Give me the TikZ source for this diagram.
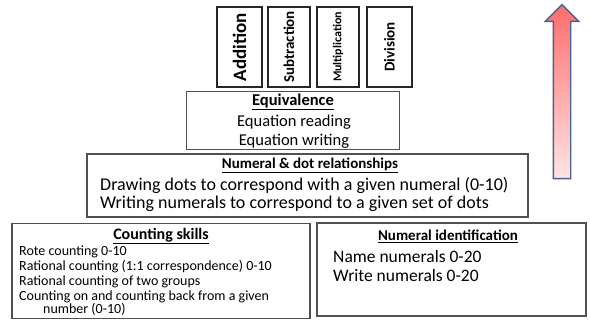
\documentclass[tikz,border=0pt]{standalone}
\usepackage{fontspec}
\setmainfont{Carlito}
\usepackage{tikz}
\usetikzlibrary{shapes.arrows}
\definecolor{BoxGrey}{RGB}{80,80,80}
\definecolor{ArrowTop}{RGB}{255,108,108}
\definecolor{ArrowBottom}{RGB}{255,228,228}
\definecolor{ArrowEdge}{RGB}{72,98,145}
\tikzset{
  levelbox/.style={draw=BoxGrey, line width=1.2pt, inner sep=0pt},
  opbox/.style={levelbox, draw=black!85, minimum width=80pt, inner sep=0pt,
    font=\bfseries},
  headtxt/.style={font=\bfseries\fontsize{15}{17}\selectfont, inner sep=0pt},
  itemtxt/.style={font=\fontsize{17.5}{19}\selectfont, anchor=west, inner sep=0pt},
  smalltxt/.style={font=\fontsize{14}{14}\selectfont, anchor=west, inner sep=0pt},
  uparrow/.style={single arrow, shape border rotate=90, draw=ArrowEdge, line width=1.4pt,
    top color=ArrowTop, bottom color=ArrowBottom, inner xsep=8pt, inner ysep=0pt,
    single arrow head extend=8pt, single arrow head indent=0pt},
}

\begin{document}
\begin{tikzpicture}[x=1pt,y=-1pt]
  \useasboundingbox (0,0) rectangle (590,320);
  % operations
  \node[opbox, rotate=90, minimum height=45pt, font=\bfseries\fontsize{19}{21}\selectfont] (add) at (239.5,47) {Addition};
  \node[opbox, rotate=90, minimum height=42pt, font=\bfseries\fontsize{15}{17}\selectfont] (sub) at (289,47) {Subtraction};
  \node[opbox, rotate=90, minimum height=42pt, font=\bfseries\fontsize{12}{14}\selectfont] (mul) at (338,47) {Multiplication};
  \node[opbox, rotate=90, minimum height=45pt, font=\bfseries\fontsize{15}{17}\selectfont] (div) at (389.5,47) {Division};
  % equivalence
  \node[levelbox, minimum width=213pt, minimum height=58pt] (equiv) at (293,120.5) {};
  \node[headtxt, font=\bfseries\fontsize{16.5}{18}\selectfont] (equivhead) at (293,102) {\underline{Equivalence}};
  \node[itemtxt, anchor=center, font=\fontsize{16.5}{18}\selectfont] (equivread) at (294,122) {Equation reading};
  \node[itemtxt, anchor=center, font=\fontsize{16.5}{18}\selectfont] (equivwrite) at (294,141) {Equation writing};
  % numeral and dots
  \node[levelbox, minimum width=441pt, minimum height=63pt] (numdot) at (307.5,185.5) {};
  \node[headtxt] (numdothead) at (310,165) {\underline{Numeral \& dot relationships}};
  \node[itemtxt, font=\fontsize{18}{19}\selectfont] (numdotdraw) at (100,185) {Drawing dots to correspond with a given numeral (0-10)};
  \node[itemtxt, font=\fontsize{18}{19}\selectfont] (numdotwrite) at (100,204) {Writing numerals to correspond to a given set of dots};
  % counting
  \node[levelbox, minimum width=298pt, minimum height=95pt] (count) at (161,271) {};
  \node[headtxt, font=\bfseries\fontsize{16}{18}\selectfont] (counthead) at (161,236) {\underline{Counting skills}};
  \node[smalltxt] (countrote) at (19,251.5) {Rote counting 0-10};
  \node[smalltxt] (countrat) at (19,266.5) {Rational counting (1:1 correspondence) 0-10};
  \node[smalltxt] (countgrp) at (19,282) {Rational counting of two groups};
  \node[smalltxt] (counton) at (19,297) {Counting on and counting back from a given};
  \node[smalltxt] (countnum) at (43,309.5) {number (0-10)};
  % identification
  \node[levelbox, minimum width=269pt, minimum height=93pt] (ident) at (451.5,269.5) {};
  \node[headtxt] (identhead) at (448,236) {\underline{Numeral identification}};
  \node[itemtxt] (identname) at (333,256) {Name numerals 0-20};
  \node[itemtxt] (identwrite) at (333,275) {Write numerals 0-20};
  % progression
  \node[uparrow, minimum height=174pt, minimum width=32pt] (progress) at (562,96) {};
\end{tikzpicture}
\end{document}
